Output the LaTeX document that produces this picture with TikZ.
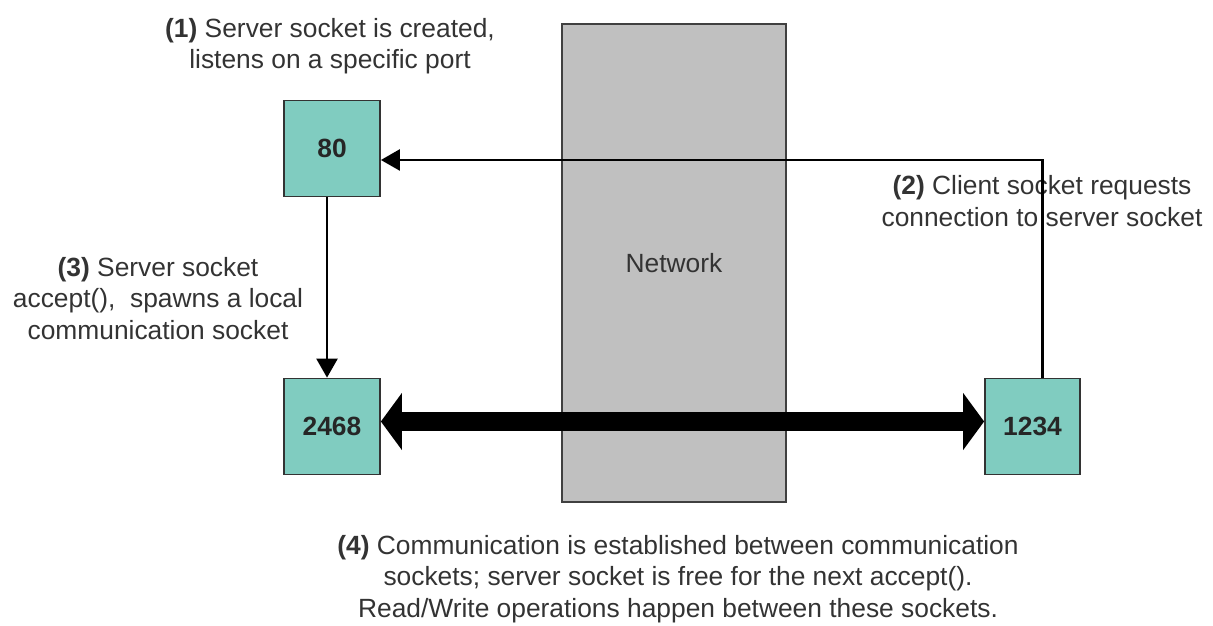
\documentclass[tikz,border=0pt]{standalone}
\usepackage{fontspec}
\setmainfont{Liberation Sans}
\usepackage{xcolor}
\usetikzlibrary{arrows.meta}

\definecolor{sockfill}{RGB}{128,204,192}
\definecolor{netgray}{RGB}{192,192,192}

\tikzset{
  txt/.style={font=\fontsize{15}{17.8}\selectfont},
  sock/.style={draw=black!80, line width=1pt, fill=sockfill,
    minimum width=1.92cm, minimum height=1.92cm, text=black!85, font=\fontsize{15}{18}\selectfont\bfseries},
  note/.style={txt, align=center, text=black!80},
  link/.style={line width=1.4pt, -{Triangle[length=0.38cm,width=0.42cm]}},
  pipe/.style={line width=0.38cm,
    {Triangle[length=0.42cm,width=1.12cm]}-{Triangle[length=0.42cm,width=1.12cm]}}
}

\begin{document}
\begin{tikzpicture}
        \useasboundingbox (0,0) rectangle (24.26,12.5);
        % network in the middle
        \node[txt, draw=black!75, line width=1.2pt, fill=netgray, text=black!80,
          minimum width=4.48cm, minimum height=9.56cm] (net) at (13.48,7.24) {Network};
        % sockets
        \node[sock] (s80) at (6.64,9.53) {80};
        \node[sock] (s2468) at (6.64,3.97) {2468};
        \node[sock, minimum width=1.9cm] (c1234) at (20.65,3.97) {1234};
        % notes
        \node[note] (step1) at (6.6,11.58) {\textbf{(1)} Server socket is created,\\ listens on a specific port};
        \node[note] (step2) at (20.84,8.48) {\textbf{(2)} Client socket requests\\ connection to server socket};
        \node[note] (step3) at (3.16,6.53) {\textbf{(3)} Server socket\\ accept(),\ \ spawns a local\\ communication socket};
        \node[note] (step4) at (13.56,0.92) {\textbf{(4)} Communication is established between communication\\ sockets; server socket is free for the next accept().\\ Read/Write operations happen between these sockets.};
        % connectors
        \draw[pipe] ([yshift=1mm]s2468.east) -- ([yshift=1mm]c1234.west);
        \draw[link] ([xshift=2mm]c1234.north) |- ([yshift=-2.3mm]s80.east);
        \draw[link] ([xshift=-1mm]s80.south) -- ([xshift=-1mm]s2468.north);
    \end{tikzpicture}
\end{document}
